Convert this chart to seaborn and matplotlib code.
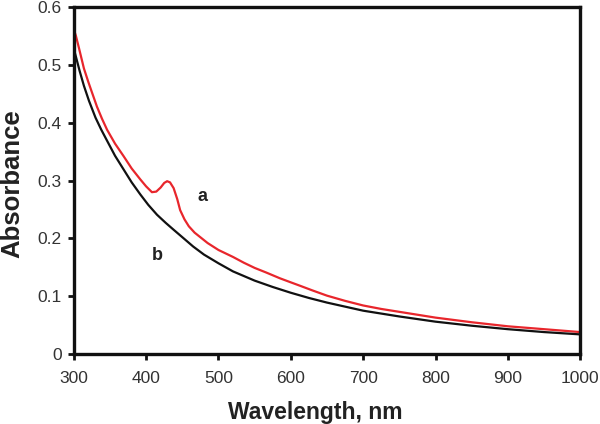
import matplotlib
matplotlib.use("Agg")
import matplotlib.pyplot as plt
import seaborn as sns
import pandas as pd

# Spectrum a (red) and b (black)
wl_a = [300, 303, 307, 314, 320, 325, 332, 339, 346, 357, 369, 380, 392, 400, 408,
        414, 420, 425, 429, 433, 438, 443, 447, 453, 459, 467, 475, 485, 500, 510,
        520, 535, 550, 566, 585, 600, 613, 630, 650, 675, 700, 725, 750, 775, 800,
        850, 900, 950, 1000]
abs_a = [0.562, 0.550, 0.530, 0.494, 0.471, 0.453, 0.428, 0.407, 0.388, 0.364, 0.342,
         0.321, 0.302, 0.290, 0.280, 0.281, 0.288, 0.296, 0.299, 0.297, 0.287, 0.268,
         0.249, 0.233, 0.221, 0.210, 0.202, 0.192, 0.180, 0.174, 0.168, 0.158, 0.149,
         0.141, 0.131, 0.124, 0.118, 0.110, 0.101, 0.092, 0.084, 0.078, 0.073, 0.068,
         0.063, 0.055, 0.048, 0.043, 0.038]

wl_b = [300, 303, 308, 314, 321, 330, 338, 346, 357, 369, 380, 392, 403, 415, 427,
        438, 452, 465, 480, 500, 520, 550, 575, 600, 625, 650, 675, 700, 750, 800,
        850, 900, 950, 1000]
abs_b = [0.528, 0.514, 0.490, 0.464, 0.438, 0.409, 0.388, 0.369, 0.343, 0.319, 0.297,
         0.276, 0.258, 0.241, 0.227, 0.215, 0.200, 0.186, 0.172, 0.157, 0.143, 0.127,
         0.116, 0.106, 0.097, 0.089, 0.082, 0.075, 0.065, 0.056, 0.049, 0.043, 0.038,
         0.034]

x_ticks = [300, 400, 500, 600, 700, 800, 900, 1000]
y_ticks = [0, 0.1, 0.2, 0.3, 0.4, 0.5, 0.6]
y_tick_labels = ["0", "0.1", "0.2", "0.3", "0.4", "0.5", "0.6"]

df = pd.concat([
    pd.DataFrame({"wl": wl_a, "abs": abs_a, "sample": "a"}),
    pd.DataFrame({"wl": wl_b, "abs": abs_b, "sample": "b"}),
])

sns.set_style("white")
plt.rcParams["font.family"] = ["Liberation Sans", "DejaVu Sans"]

fig = plt.figure(figsize=(6, 4.24), dpi=100)
ax = fig.add_axes([0.123, 0.165, 0.844, 0.818])

sns.lineplot(data=df, x="wl", y="abs", hue="sample", sort=False,
             palette={"a": "#e8262c", "b": "#111111"}, linewidth=1.6,
             legend=False, ax=ax)

ax.set_xlim(300, 1000)
ax.set_ylim(0, 0.6)
ax.set_xticks(x_ticks)
ax.set_yticks(y_ticks)
ax.set_yticklabels(y_tick_labels)
ax.tick_params(axis="both", direction="out", length=4.5, width=2, labelsize=12.5,
               labelcolor="#333333", color="#111111", bottom=True, left=True)
ax.tick_params(axis="x", pad=8)
ax.tick_params(axis="y", pad=4)
for s in ax.spines.values():
    s.set_linewidth(2.4)
    s.set_color("#111111")

ax.set_xlabel("Wavelength, nm", fontsize=16.5, fontweight="bold", color="#222222")
ax.set_ylabel("Absorbance", fontsize=18.5, fontweight="bold", color="#222222")
ax.xaxis.set_label_coords(0.477, -0.135)
ax.yaxis.set_label_coords(-0.098, 0.49)

ax.text(478, 0.272, "a", fontsize=13, fontweight="bold", ha="center", va="center", color="#222222")
ax.text(416, 0.171, "b", fontsize=13, fontweight="bold", ha="center", va="center", color="#222222")

fig.savefig("out.png", dpi=100)
